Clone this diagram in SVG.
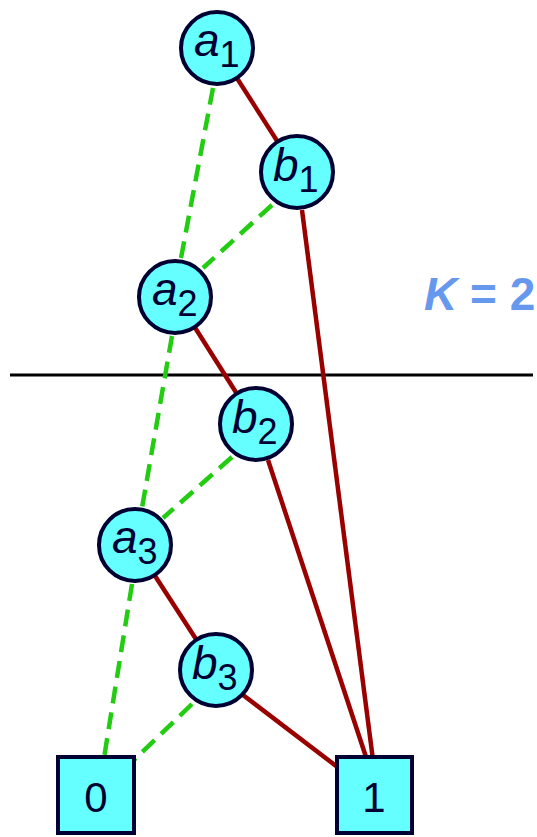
<svg xmlns="http://www.w3.org/2000/svg" width="537" height="837" viewBox="0 0 537 837">
<style>
.n{fill:#66ffff;stroke:#000033;stroke-width:4}
.t{font-family:"Liberation Sans",Arial,sans-serif;fill:#000033}
.v{font-style:italic;font-size:46px}
.s{font-size:36px}
.lo{stroke:#22cc11;stroke-width:4.5;stroke-dasharray:17,9;fill:none}
.hi{stroke:#990000;stroke-width:4.5;fill:none}
</style>
<rect width="537" height="837" fill="#ffffff"/>
<line x1="10" y1="375" x2="533" y2="375" stroke="#000000" stroke-width="3"/>
<text x="424" y="310" font-family="Liberation Sans,Arial,sans-serif" font-weight="bold" font-size="46" fill="#6699ee"><tspan font-style="italic">K</tspan> = 2</text>
<g id="edges">
<line class="hi" x1="217" y1="47" x2="297" y2="172"/>
<line class="hi" x1="302" y1="210" x2="373" y2="760"/>
<line class="hi" x1="175" y1="296" x2="256" y2="424"/>
<line class="hi" x1="268" y1="460" x2="367" y2="760"/>
<line class="hi" x1="135" y1="545" x2="216" y2="670"/>
<line class="hi" x1="243" y1="695" x2="340" y2="769"/>
<line class="lo" x1="213" y1="88" x2="181" y2="258"/>
<line class="lo" x1="272" y1="205" x2="203" y2="268"/>
<line class="lo" x1="172" y1="336" x2="142" y2="508"/>
<line class="lo" x1="232" y1="457" x2="163" y2="518"/>
<line class="lo" x1="132" y1="584" x2="104" y2="758"/>
<line class="lo" x1="192" y1="704" x2="134" y2="760"/>
</g>
<g id="a1"><circle class="n" cx="217" cy="48" r="36"/><text class="t" x="194" y="56"><tspan class="v">a</tspan><tspan class="s" dy="11">1</tspan></text></g>
<g id="b1"><circle class="n" cx="297" cy="172" r="36"/><text class="t" x="273" y="181"><tspan class="v">b</tspan><tspan class="s" dy="11">1</tspan></text></g>
<g id="a2"><circle class="n" cx="175" cy="297" r="36"/><text class="t" x="152" y="305"><tspan class="v">a</tspan><tspan class="s" dy="11">2</tspan></text></g>
<g id="b2"><circle class="n" cx="256" cy="424" r="36"/><text class="t" x="232" y="433"><tspan class="v">b</tspan><tspan class="s" dy="11">2</tspan></text></g>
<g id="a3"><circle class="n" cx="135" cy="545" r="36"/><text class="t" x="112" y="553"><tspan class="v">a</tspan><tspan class="s" dy="11">3</tspan></text></g>
<g id="b3"><circle class="n" cx="216" cy="670" r="36"/><text class="t" x="192" y="679"><tspan class="v">b</tspan><tspan class="s" dy="11">3</tspan></text></g>
<g id="t0"><rect class="n" x="58" y="757" width="76" height="76"/><text class="t" x="96" y="812" font-size="42" text-anchor="middle">0</text></g>
<g id="t1"><rect class="n" x="337" y="757" width="75" height="76"/><text class="t" x="374" y="812" font-size="42" text-anchor="middle">1</text></g>
</svg>
